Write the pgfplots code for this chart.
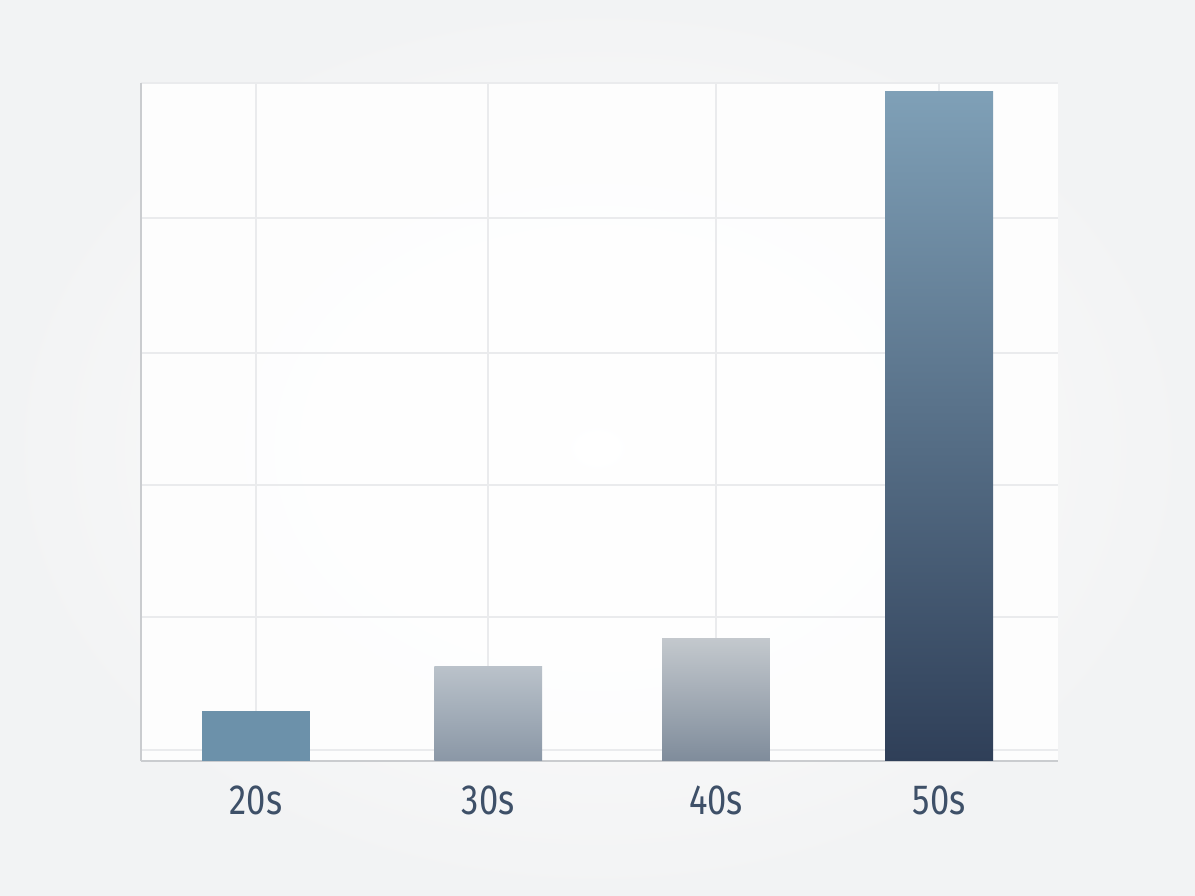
\documentclass[border=0pt]{standalone}
\usepackage{pgfplots}
\pgfplotsset{compat=1.18}
\usepackage{fontspec}
\setmainfont{Fira Sans}[FakeStretch=0.82]
\definecolor{bgout}{HTML}{F2F3F4}
\definecolor{gridc}{HTML}{EAEBED}
\definecolor{axc}{HTML}{CACCCF}
\definecolor{lab}{HTML}{3E5068}
\definecolor{b1}{HTML}{6C91AA}
\definecolor{b2t}{HTML}{BAC2CA}
\definecolor{b2b}{HTML}{8A97A6}
\definecolor{b3t}{HTML}{C3C8CD}
\definecolor{b3b}{HTML}{7F8C9B}
\definecolor{b4t}{HTML}{7FA0B7}
\definecolor{b4b}{HTML}{2F3F58}
\begin{document}
\begin{tikzpicture}
\shade[inner color=white, outer color=bgout] (0cm,0cm) rectangle (11.95cm,8.96cm);
\begin{axis}[
  at={(1.41cm,1.35cm)}, anchor=south west,
  scale only axis, width=9.17cm, height=6.78cm,
  xmin=-0.505, xmax=3.522, ymin=0, ymax=101.65,
  axis background/.style={fill=white, fill opacity=0.85},
  xtick={0,1.02,2.02,3}, xticklabels={20s,30s,40s,50s},
  ytick={1.65,21.65,41.4,61.2,81.4,101.65}, yticklabels={},
  major tick length=0pt,
  grid=major, major grid style={gridc, line width=0.6pt},
  axis x line*=bottom, axis y line*=left,
  axis line style={axc, line width=0.75pt, -},
  xticklabel style={font=\fontsize{12}{14}\selectfont, text=lab, yshift=-3.6pt},
  ybar, bar width=0.474, bar shift=0pt,
  clip=false,
]
\addplot[draw=none, fill=b1] coordinates {(0,7.5)};
\addplot[draw=none, top color=b2t, bottom color=b2b] coordinates {(1.02,14.2)};
\addplot[draw=none, top color=b3t, bottom color=b3b] coordinates {(2.02,18.3)};
\addplot[draw=none, top color=b4t, bottom color=b4b] coordinates {(3,100.3)};
\end{axis}
\end{tikzpicture}
\end{document}
